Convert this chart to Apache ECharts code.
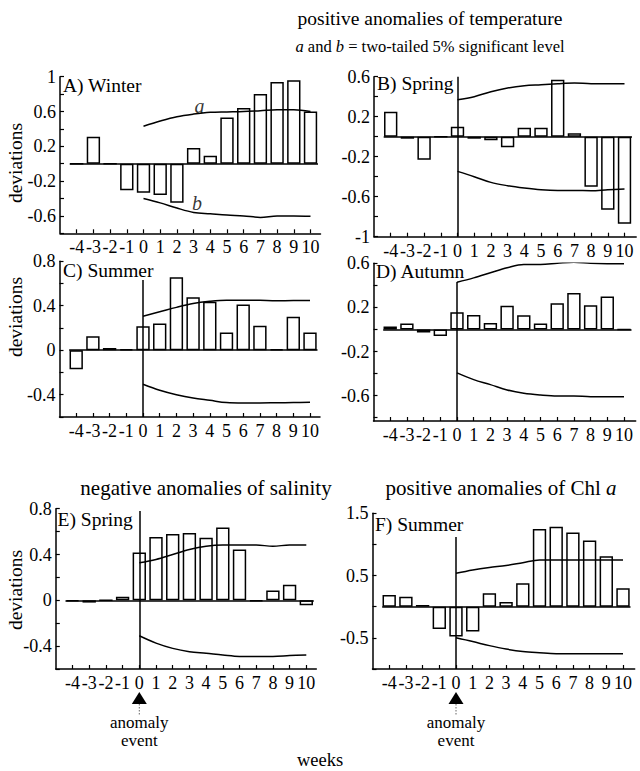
<!DOCTYPE html>
<html><head><meta charset="utf-8">
<script src="https://cdn.jsdelivr.net/npm/echarts@6/dist/echarts.min.js"></script>
<style>html,body{margin:0;padding:0;background:#fff}#c{width:640px;height:771px}</style>
</head><body><div id="c"></div>
<script>
// ---- data ----
const weeks = [-4,-3,-2,-1,0,1,2,3,4,5,6,7,8,9,10];
const curveWeeks = [0,1,2,3,4,5,6,7,8,9,10];

const winterBars = [0, 0.31, 0, -0.305, -0.335, -0.36, -0.45, 0.18, 0.09, 0.53, 0.64, 0.80, 0.94, 0.96, 0.60];
const winterA = [0.43, 0.49, 0.54, 0.57, 0.59, 0.595, 0.60, 0.61, 0.62, 0.62, 0.60];
const winterB = [-0.40, -0.45, -0.51, -0.56, -0.575, -0.59, -0.60, -0.617, -0.60, -0.60, -0.605];

const springBars = [0.25, -0.02, -0.23, 0, 0.10, -0.02, -0.035, -0.105, 0.09, 0.09, 0.57, 0.035, -0.50, -0.73, -0.87];
const springA = [0.37, 0.40, 0.45, 0.487, 0.51, 0.52, 0.53, 0.537, 0.53, 0.53, 0.53];
const springB = [-0.347, -0.40, -0.457, -0.49, -0.513, -0.53, -0.537, -0.537, -0.54, -0.53, -0.523];

const summerBars = [-0.17, 0.126, 0.02, 0.01, 0.216, 0.24, 0.655, 0.477, 0.435, 0.16, 0.41, 0.22, 0.01, 0.30, 0.16];
const summerA = [0.306, 0.345, 0.385, 0.42, 0.44, 0.45, 0.45, 0.448, 0.444, 0.447, 0.447];
const summerB = [-0.306, -0.36, -0.40, -0.43, -0.45, -0.47, -0.474, -0.474, -0.472, -0.47, -0.468];

const autumnBars = [0.028, 0.055, -0.028, -0.06, 0.157, 0.132, 0.058, 0.215, 0.13, 0.055, 0.237, 0.33, 0.22, 0.30, 0];
const autumnA = [0.428, 0.468, 0.514, 0.56, 0.59, 0.59, 0.60, 0.61, 0.60, 0.597, 0.597];
const autumnB = [-0.394, -0.455, -0.50, -0.548, -0.578, -0.594, -0.603, -0.603, -0.609, -0.609, -0.609];

const salinityBars = [-0.01, -0.02, 0, 0.03, 0.418, 0.553, 0.579, 0.587, 0.547, 0.636, 0.444, -0.006, 0.086, 0.135, -0.043];
const salinityA = [0.328, 0.357, 0.40, 0.443, 0.472, 0.483, 0.483, 0.483, 0.472, 0.483, 0.483];
const salinityB = [-0.31, -0.374, -0.42, -0.449, -0.463, -0.478, -0.49, -0.49, -0.49, -0.483, -0.478];

const chlBars = [0.187, 0.16, 0.027, -0.36, -0.48, -0.40, 0.214, 0.075, 0.374, 1.247, 1.284, 1.19, 1.06, 0.81, 0.294];
const chlA = [0.535, 0.59, 0.63, 0.66, 0.706, 0.75, 0.75, 0.75, 0.75, 0.75, 0.75];
const chlB = [-0.5, -0.56, -0.625, -0.68, -0.72, -0.74, -0.754, -0.754, -0.754, -0.754, -0.754];

const ticksA = [-0.8,-0.6,-0.4,-0.2,0,0.2,0.4,0.6,0.8,1];
const labelsA = [-0.6,-0.2,0.2,0.6,1];
const ticksB = [-1,-0.8,-0.6,-0.4,-0.2,0,0.2,0.4,0.6];
const labelsB = [-1,-0.6,-0.2,0.2,0.6];
const ticksC = [-0.6,-0.4,-0.2,0,0.2,0.4,0.6,0.8];
const labelsC = [-0.4,0,0.4,0.8];
const ticksD = [-0.8,-0.6,-0.4,-0.2,0,0.2,0.4,0.6];
const labelsD = [-0.6,-0.2,0.2,0.6];
const ticksE = [-0.6,-0.4,-0.2,0,0.2,0.4,0.6,0.8];
const labelsE = [-0.4,0,0.4,0.8];
const ticksF = [-1,-0.5,0,0.5,1,1.5];
const labelsF = [-0.5,0.5,1.5];

const zeroSpan = [-4.42, 10.45];
const curveLabels = [[3.35, 0.66, 'a'], [3.2, -0.45, 'b']];

// ---- layout ----
const FAMILY = 'Liberation Serif';
const PX = 16.7;
const panels = [
  {title:'A) Winter', bars:winterBars, a:winterA, b:winterB, ymin:-0.8, ymax:1, xmax:10.6, ticks:ticksA, labels:labelsA, vTop:1.02, left:60, top:76.7, height:156.6, tx:63, ty:85},
  {title:'B) Spring', bars:springBars, a:springA, b:springB, ymin:-1, ymax:0.6, xmax:10.7, ticks:ticksB, labels:labelsB, vTop:0.6, left:374, top:76.7, height:160, tx:377, ty:83},
  {title:'C) Summer', bars:summerBars, a:summerA, b:summerB, ymin:-0.6, ymax:0.8, xmax:10.6, ticks:ticksC, labels:labelsC, vTop:0.63, left:59.5, top:261.2, height:155.8, tx:63, ty:270},
  {title:'D) Autumn', bars:autumnBars, a:autumnA, b:autumnB, ymin:-0.83, ymax:0.6, xmax:10.7, ticks:ticksD, labels:labelsD, vTop:0.43, left:373.5, top:263.3, height:157.7, tx:376, ty:271},
  {title:'E) Spring', bars:salinityBars, a:salinityA, b:salinityB, ymin:-0.6, ymax:0.8, xmax:10.6, ticks:ticksE, labels:labelsE, vTop:0.78, left:55.8, top:508.7, height:160.3, tx:57.5, ty:519},
  {title:'F) Summer', bars:chlBars, a:chlA, b:chlB, ymin:-1, ymax:1.5, xmax:10.7, ticks:ticksF, labels:labelsF, vTop:1.12, left:372.5, top:513.2, height:155.8, tx:375, ty:524}
];

const grids = [], xAxes = [], yAxes = [], series = [];
const lineBlack = {color:'#000', width:1.5};
panels.forEach((p, i) => {
  grids.push({left:p.left, top:p.top, width:(p.xmax + 5) * PX, height:p.height});
  xAxes.push({
    gridIndex:i, type:'value', min:-5, max:p.xmax,
    axisLine:{show:true, onZero:false, lineStyle:lineBlack},
    axisTick:{show:true, inside:true, length:4, customValues:weeks, lineStyle:{color:'#000', width:1.2}},
    axisLabel:{customValues:weeks, color:'#000', fontFamily:FAMILY, fontSize:18, margin:5},
    splitLine:{show:false}
  });
  yAxes.push({
    gridIndex:i, type:'value', min:p.ymin, max:p.ymax,
    axisLine:{show:true, onZero:false, lineStyle:lineBlack},
    axisTick:{show:true, inside:true, length:4, customValues:p.ticks, lineStyle:{color:'#000', width:1.2}},
    axisLabel:{customValues:p.labels, color:'#000', fontFamily:FAMILY, fontSize:18, margin:4},
    splitLine:{show:false}
  });
  series.push({
    type:'bar', xAxisIndex:i, yAxisIndex:i, barWidth:'80%',
    data: weeks.map((w, j) => [w, p.bars[j]]),
    itemStyle:{color:'#fff', borderColor:'#000', borderWidth:1.5},
    markLine:{
      silent:true, symbol:['none','none'], label:{show:false},
      lineStyle:{color:'#000', width:1.5, type:'solid'},
      data:[
        [{coord:[0, p.ymin]}, {coord:[0, p.vTop]}],
        [{coord:[zeroSpan[0], 0]}, {coord:[zeroSpan[1], 0]}]
      ]
    }
  });
  [p.a, p.b].forEach(arr => {
    series.push({
      type:'line', xAxisIndex:i, yAxisIndex:i, smooth:0.35, symbol:'none',
      data: curveWeeks.map((w, j) => [w, arr[j]]),
      lineStyle:{color:'#000', width:1.5}
    });
  });
});
series.push({
  type:'scatter', xAxisIndex:0, yAxisIndex:0, symbolSize:1,
  itemStyle:{color:'rgba(0,0,0,0)'},
  data: curveLabels,
  label:{show:true, position:'inside', formatter:p => p.value[2], color:'#000', fontFamily:FAMILY, fontSize:20, fontStyle:'italic'}
});

const chart = echarts.init(document.getElementById('c'), null, {renderer:'svg'});
chart.setOption({
  animation:false, backgroundColor:'#fff',
  textStyle:{fontFamily:FAMILY, color:'#000'},
  grid:grids, xAxis:xAxes, yAxis:yAxes, series:series
});

// ---- texts and annotations ----
const txt = (x, y, text, size, extra) => Object.assign({
  type:'text', x:x, y:y, silent:true,
  style:Object.assign({text:text, fill:'#000', fontFamily:FAMILY, fontSize:size, textAlign:'center', textVerticalAlign:'middle'}, extra || {})
});
const graphics = [];
graphics.push(txt(430, 18, 'positive anomalies of temperature', 19.5));
graphics.push(txt(430, 46, '{i|a} and {i|b} = two-tailed 5% significant level', 16.5,
  {rich:{i:{fontStyle:'italic', fontFamily:FAMILY, fontSize:16.5, fill:'#000'}}}));
graphics.push(txt(206, 488, 'negative anomalies of salinity', 21));
graphics.push(txt(501, 488, 'positive anomalies of Chl {i|a}', 21,
  {rich:{i:{fontStyle:'italic', fontFamily:FAMILY, fontSize:21, fill:'#000'}}}));
graphics.push(txt(320, 760, 'weeks', 18.5));
panels.forEach(p => graphics.push(txt(p.tx, p.ty, p.title, 19.5, {textAlign:'left'})));
[[0, 163], [2, 317], [4, 590]].forEach(([gi, cy]) => {
  graphics.push({type:'text', x:15, y:cy, rotation:Math.PI/2, silent:true,
    style:{text:'deviations', fill:'#000', fontFamily:FAMILY, fontSize:19.5, textAlign:'center', textVerticalAlign:'middle'}});
});
[4, 5].forEach(gi => {
  const pt = chart.convertToPixel({gridIndex:gi}, [0, panels[gi].ymin]);
  const x = pt[0], y = pt[1];
  graphics.push({type:'polygon', silent:true, shape:{points:[[x, y + 23], [x - 7.5, y + 35], [x + 7.5, y + 35]]}, style:{fill:'#000'}});
  graphics.push({type:'line', silent:true, shape:{x1:x, y1:y + 35, x2:x, y2:y + 46}, style:{stroke:'#666', lineWidth:1, lineDash:[1.5, 1.5]}});
  graphics.push(txt(x, y + 53, 'anomaly', 17));
  graphics.push(txt(x, y + 71, 'event', 17));
});
chart.setOption({graphic:graphics});
</script>
</body></html>
